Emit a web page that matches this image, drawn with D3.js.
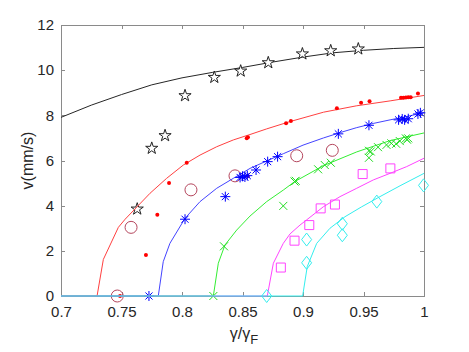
<!DOCTYPE html>
<html>
<head>
<meta charset="utf-8">
<script src="https://cdn.jsdelivr.net/npm/d3@7"></script>
<style>
  body { margin: 0; background: #fff; }
  svg { display: block; font-family: "Liberation Sans", Arial, sans-serif; }
</style>
</head>
<body>
<svg id="grafico"></svg>
<script>
"use strict"

// ticks
const gammaTicks = [0.7, 0.75, 0.8, 0.85, 0.9, 0.95, 1];
const vTicks = [0, 2, 4, 6, 8, 10, 12];

// fitted curves [gamma/gammaF, v]
const blackFit = [[0.70,7.91],[0.725,8.45],[0.75,8.92],[0.775,9.35],[0.80,9.66],[0.825,9.9],[0.85,10.12],[0.875,10.36],[0.90,10.58],[0.925,10.77],[0.95,10.88],[0.975,10.96],[1.0,11.01]];
const redFit = [[0.7,0],[0.7298,0],[0.735,1.62],[0.7474,3.04],[0.753,3.4],[0.7736,4.55],[0.7873,5.21],[0.8011,5.8],[0.8149,6.24],[0.8287,6.61],[0.8424,6.91],[0.8562,7.15],[0.87,7.4],[0.889,7.72],[0.917,8.14],[0.944,8.42],[0.972,8.64],[1.0,8.88]];
const blueFit = [[0.7,0],[0.7804,0],[0.7845,1.52],[0.79,2.33],[0.8025,3.44],[0.8149,4.18],[0.8287,4.77],[0.8424,5.21],[0.8562,5.65],[0.87,5.98],[0.8837,6.3],[0.9,6.68],[0.917,7.0],[0.931,7.24],[0.944,7.45],[0.958,7.64],[0.972,7.8],[0.986,7.95],[1.0,8.12]];
const greenFit = [[0.7,0],[0.8259,0],[0.83,1.45],[0.8355,2.26],[0.8452,2.92],[0.8562,3.54],[0.87,4.18],[0.8837,4.69],[0.893,5.06],[0.9168,5.77],[0.9444,6.38],[0.9719,6.88],[1.0,7.22]];
const magentaFit = [[0.7,0],[0.8705,0],[0.8755,1.45],[0.8837,2.33],[0.8893,2.75],[0.8975,3.14],[0.903,3.37],[0.9168,3.95],[0.9306,4.4],[0.9444,4.77],[0.9581,5.14],[0.9719,5.43],[0.9857,5.73],[1.0,6.1]];
const cyanFit = [[0.7,0],[0.8997,0],[0.9035,1.3],[0.9113,2.33],[0.9223,3.0],[0.9347,3.51],[0.9485,3.95],[0.9636,4.4],[0.9802,4.88],[1.0,5.43]];

// measured points
const stars = [[0.763,3.85],[0.775,6.54],[0.786,7.1],[0.8025,8.87],[0.8267,9.68],[0.8485,9.96],[0.8713,10.33],[0.8995,10.72],[0.9229,10.86],[0.9457,10.94]];
const redDots = [[0.7488,0],[0.7702,1.82],[0.7796,3.6],[0.7893,5.0],[0.8039,5.9],[0.8535,6.98],[0.8545,7.03],[0.8543,5.31],[0.886,7.65],[0.890,7.75],[0.928,8.31],[0.948,8.56],[0.955,8.62],[0.981,8.78],[0.983,8.78],[0.985,8.79],[0.987,8.8],[0.989,8.8],[0.995,8.97]];
const circles = [[0.7465,0],[0.7579,3.04],[0.8074,4.7],[0.8438,5.32],[0.8948,6.21],[0.9242,6.45]];
const asterisks = [[0.7727,0],[0.8025,3.4],[0.8358,4.4],[0.848,5.25],[0.85,5.3],[0.852,5.27],[0.854,5.33],[0.8612,5.58],[0.8708,5.95],[0.879,6.17],[0.9292,7.18],[0.9545,7.56],[0.979,7.8],[0.982,7.84],[0.984,7.8],[0.987,7.85],[0.995,8.06],[0.997,8.11]];
const crosses = [[0.8259,0],[0.8347,2.2],[0.8837,3.99],[0.893,5.07],[0.894,5.1],[0.9125,5.61],[0.918,5.8],[0.923,5.9],[0.9545,6.43],[0.956,6.4],[0.9545,6.12],[0.962,6.59],[0.969,6.69],[0.973,6.76],[0.977,6.74],[0.980,6.86],[0.985,6.98],[0.986,6.92],[0.987,6.98]];
const squares = [[0.8817,1.26],[0.893,2.45],[0.9052,3.14],[0.9146,3.88],[0.9264,4.05],[0.9493,5.4],[0.9722,5.65]];
const diamonds = [[0.87,0],[0.903,1.47],[0.903,2.5],[0.9325,3.2],[0.9325,2.69],[0.961,4.18],[0.9996,4.9]];

function iniciar(){
  const largura = 469, altura = 352;
  const margem = { esquerda: 61, direita: 45, superior: 25, inferior: 56 };

  const svg = d3.select('#grafico').attr('width', largura).attr('height', altura);
  svg.append('rect').attr('width', largura).attr('height', altura).attr('fill', '#fff');

  const x = d3.scaleLinear().domain([0.7, 1]).range([margem.esquerda, largura - margem.direita]);
  const y = d3.scaleLinear().domain([0, 12]).range([altura - margem.inferior, margem.superior]);

  const corEixo = '#8a8a8a', corTexto = '#262626';

  // eixos (caixa com ticks para dentro)
  const fmt = d => String(d);
  const eixoX = svg.append('g').attr('transform', `translate(0,${y(0)})`)
    .call(d3.axisBottom(x).tickValues(gammaTicks).tickFormat(fmt).tickSize(-4).tickPadding(10));
  const eixoY = svg.append('g').attr('transform', `translate(${x(0.7)},0)`)
    .call(d3.axisLeft(y).tickValues(vTicks).tickSize(-4).tickPadding(7));
  const eixoTopo = svg.append('g').attr('transform', `translate(0,${y(12)})`)
    .call(d3.axisTop(x).tickValues(gammaTicks).tickFormat('').tickSize(-4));
  const eixoDir = svg.append('g').attr('transform', `translate(${x(1)},0)`)
    .call(d3.axisRight(y).tickValues(vTicks).tickFormat('').tickSize(-4));

  [eixoX, eixoY, eixoTopo, eixoDir].forEach(g => {
    g.selectAll('path, line').attr('stroke', corEixo).attr('shape-rendering', 'crispEdges');
    g.selectAll('text').attr('fill', corTexto).style('font-size', '15px')
      .style('font-family', '"Liberation Sans", Arial, sans-serif');
  });

  const linha = d3.line().x(d => x(d[0])).y(d => y(d[1]));
  const plot = svg.append('g');

  function curva(dados, cor){
    plot.append('path').datum(dados).attr('d', linha)
      .attr('fill', 'none').attr('stroke', cor).attr('stroke-width', 1);
  }

  function marcas(dados, caminho, cor, preenchimento){
    plot.selectAll(null).data(dados).enter().append('path')
      .attr('transform', d => `translate(${x(d[0])},${y(d[1])})`)
      .attr('d', caminho)
      .attr('fill', preenchimento || 'none')
      .attr('stroke', cor).attr('stroke-width', 1);
  }

  const estrela = d3.symbol().type(d3.symbolStar).size(46)();
  const r = 5, d = r * 0.7071;
  const asterisco = `M${-r},0L${r},0M0,${-r}L0,${r}M${-d},${-d}L${d},${d}M${-d},${d}L${d},${-d}`;
  const xis = 'M-4,-4L4,4M-4,4L4,-4';
  const quadrado = 'M-4.5,-4.5H4.5V4.5H-4.5Z';
  const losango = 'M0,-6.5L5,0L0,6.5L-5,0Z';

  curva(blackFit, '#262626');
  marcas(stars, estrela, '#222', '#fff');

  curva(redFit, '#ff4040');
  plot.selectAll(null).data(redDots).enter().append('circle')
    .attr('cx', d => x(d[0])).attr('cy', d => y(d[1])).attr('r', 2).attr('fill', '#ff0000');

  marcas(circles, d3.symbol().type(d3.symbolCircle).size(Math.PI * 36)(), '#b5475e');

  curva(blueFit, '#4444ff');
  marcas(asterisks, asterisco, '#0000ff');

  curva(greenFit, '#33ee33');
  marcas(crosses, xis, '#22dd22');

  curva(magentaFit, '#ff44ff');
  marcas(squares, quadrado, '#ff44ff');

  curva(cyanFit, '#33eeee');
  marcas(diamonds, losango, '#33eeee');

  // rótulos
  svg.append('text')
    .attr('transform', `translate(27,${(y(0) + y(12)) / 2}) rotate(-90)`)
    .attr('text-anchor', 'middle').attr('dy', '0.35em')
    .attr('fill', corTexto).style('font-size', '16px')
    .text('v(mm/s)');

  const rx = svg.append('text')
    .attr('x', 244).attr('y', 339)
    .attr('text-anchor', 'middle')
    .attr('fill', corTexto).style('font-size', '16px');
  rx.append('tspan').text('γ/γ');
  rx.append('tspan').attr('dy', 5).style('font-size', '13px').text('F');
}

window.addEventListener('load', iniciar, false);
</script>
</body>
</html>
